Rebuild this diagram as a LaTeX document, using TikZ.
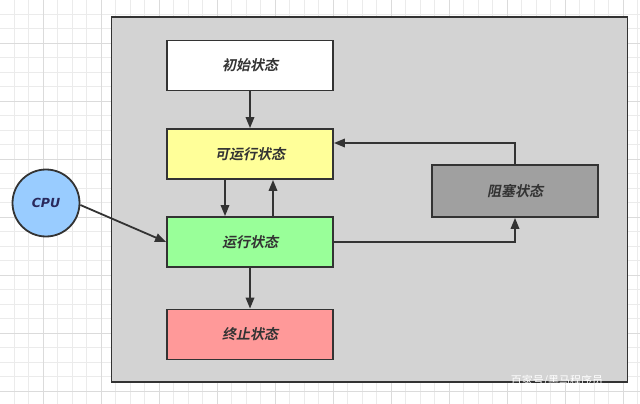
\documentclass[tikz,border=0pt]{standalone}
\usepackage{fontspec}
\newfontfamily\cjk{Noto Sans CJK SC}
\newfontfamily\cjkb[FakeSlant=0.2]{Noto Sans CJK SC Bold}
\setsansfont{DejaVu Sans}
\usetikzlibrary{arrows.meta}
\definecolor{bggray}{HTML}{D3D3D3}
\definecolor{edge}{HTML}{333333}
\definecolor{ylw}{HTML}{FFFF99}
\definecolor{grn}{HTML}{99FF99}
\definecolor{rd}{HTML}{FF9999}
\definecolor{blk}{HTML}{A0A0A0}
\definecolor{cpuc}{HTML}{99CCFF}
\definecolor{gridc}{HTML}{EBEBEB}
\begin{document}
\begin{tikzpicture}[x=1pt,y=-1pt,
  state/.style={draw=edge,line width=1.8pt,minimum width=166pt,minimum height=50pt,inner sep=0pt,font=\cjkb\fontsize{14}{16}\selectfont,text=edge},
  conn/.style={draw=edge,line width=1.8pt,-{Triangle[length=11pt,width=8.5pt]}},
]
\useasboundingbox (0,0) rectangle (640,404);
\fill[white] (0,0) rectangle (640,404);
\foreach \i in {0,...,45} {
  \draw[gridc,line width=0.7pt] (-0.5+14.5*\i,0) -- (-0.5+14.5*\i,404);
}
\foreach \i in {0,...,28} {
  \draw[gridc,line width=0.7pt] (0,-0.5+14.5*\i) -- (640,-0.5+14.5*\i);
}
\foreach \i in {0,...,11} {
  \draw[gridc!85!gray,line width=0.7pt] (43+58*\i,0) -- (43+58*\i,404);
}
\foreach \i in {0,...,7} {
  \draw[gridc!85!gray,line width=0.7pt] (0,43+58*\i) -- (640,43+58*\i);
}
\node[draw=edge,fill=bggray,line width=1.8pt,minimum width=516pt,minimum height=365pt,inner sep=0pt] (frame) at (369.5,199.5) {};
\node[state,fill=white] (init) at (250,65.5) {初始状态};
\node[state,fill=ylw] (ready) at (250,154) {可运行状态};
\node[state,fill=grn] (run) at (250,242) {运行状态};
\node[state,fill=rd] (term) at (250,334.5) {终止状态};
\node[state,fill=blk,minimum height=52pt] (block) at (515,191) {阻塞状态};
\node[circle,draw=edge,fill=cpuc,line width=1.8pt,minimum size=67pt,inner sep=0pt,font=\sffamily\bfseries\itshape\fontsize{12.5}{14}\selectfont,text=edge!80!blue] (cpu) at (46,203) {CPU};
\coordinate (c0) at ([yshift=-2pt]cpu.east);
\draw[conn] (init) -- (ready);
\draw[conn] ([xshift=-25pt]ready.south) -- ([xshift=-25pt]run.north);
\draw[conn] ([xshift=23pt]run.north) -- ([xshift=23pt]ready.south);
\draw[conn] (run) -- (term);
\draw[conn] (run.east) -| (block.south);
\draw[conn] (block.north) |- ([yshift=11pt]ready.east);
\draw[conn] (c0) -- (run.west);
\node[text=white,font=\cjk\fontsize{11}{12}\selectfont,anchor=center] (wm) at (557,381) {百家号/黑马程序员};
\end{tikzpicture}
\end{document}
